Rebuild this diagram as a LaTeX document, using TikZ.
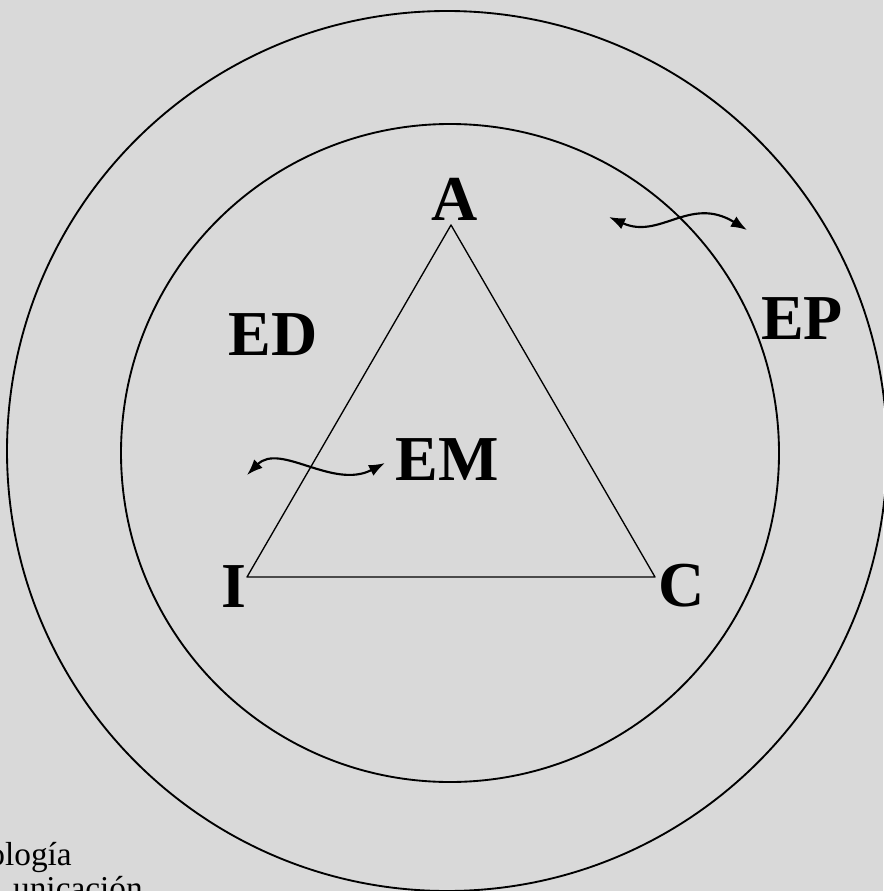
\documentclass[tikz,border=0pt]{standalone}
\usepackage{fontspec}
\setmainfont{Liberation Serif}
\usetikzlibrary{arrows.meta}
\definecolor{bgc}{RGB}{217,217,217}
\tikzset{
  lbl/.style={font=\fontsize{48}{50}\selectfont\bfseries, inner sep=0pt, anchor=base},
  note/.style={font=\fontsize{25}{27}\selectfont, inner sep=0pt, anchor=base east},
  wave/.style={line width=1.6pt, {Latex[length=12pt,width=9pt]}-{Latex[length=12pt,width=9pt]}}
}
\begin{document}
\begin{tikzpicture}[x=0.75pt, y=-0.75pt, line join=round, line cap=round]
\fill[bgc] (0,0) rectangle (883,891);
\useasboundingbox (0,0) rectangle (883,891);
\coordinate (O1) at (447,451);
\coordinate (O2) at (450,453);
\coordinate (A) at (451,225);
\coordinate (I) at (247,577);
\coordinate (C) at (655,577);
\coordinate (P1) at (609,217);
\coordinate (P2) at (747,230);
\coordinate (Q1) at (247,475);
\coordinate (Q2) at (385,463);
\draw[line width=1.4pt] (O1) circle[radius=440];
\draw[line width=1.4pt] (O2) circle[radius=329];
\draw[line width=1pt] (A) -- (I) -- (C) -- cycle;
\draw[wave] (P1) .. controls (660,240) and (690,195) .. (P2);
\draw[wave] (Q1) .. controls (280,442) and (333,490) .. (Q2);
\node[lbl] (la) at (455,220) {A};
\node[lbl] (li) at (234,607) {I};
\node[lbl] (lc) at (682,606) {C};
\node[lbl] (ed) at (273,355) {ED};
\node[lbl] (ep) at (802,339) {EP};
\node[lbl] (em) at (447,480) {EM};
\node[note] (t1) at (72,865) {ología};
\node[note] (t2) at (143,899) {unicación};
\end{tikzpicture}
\end{document}
